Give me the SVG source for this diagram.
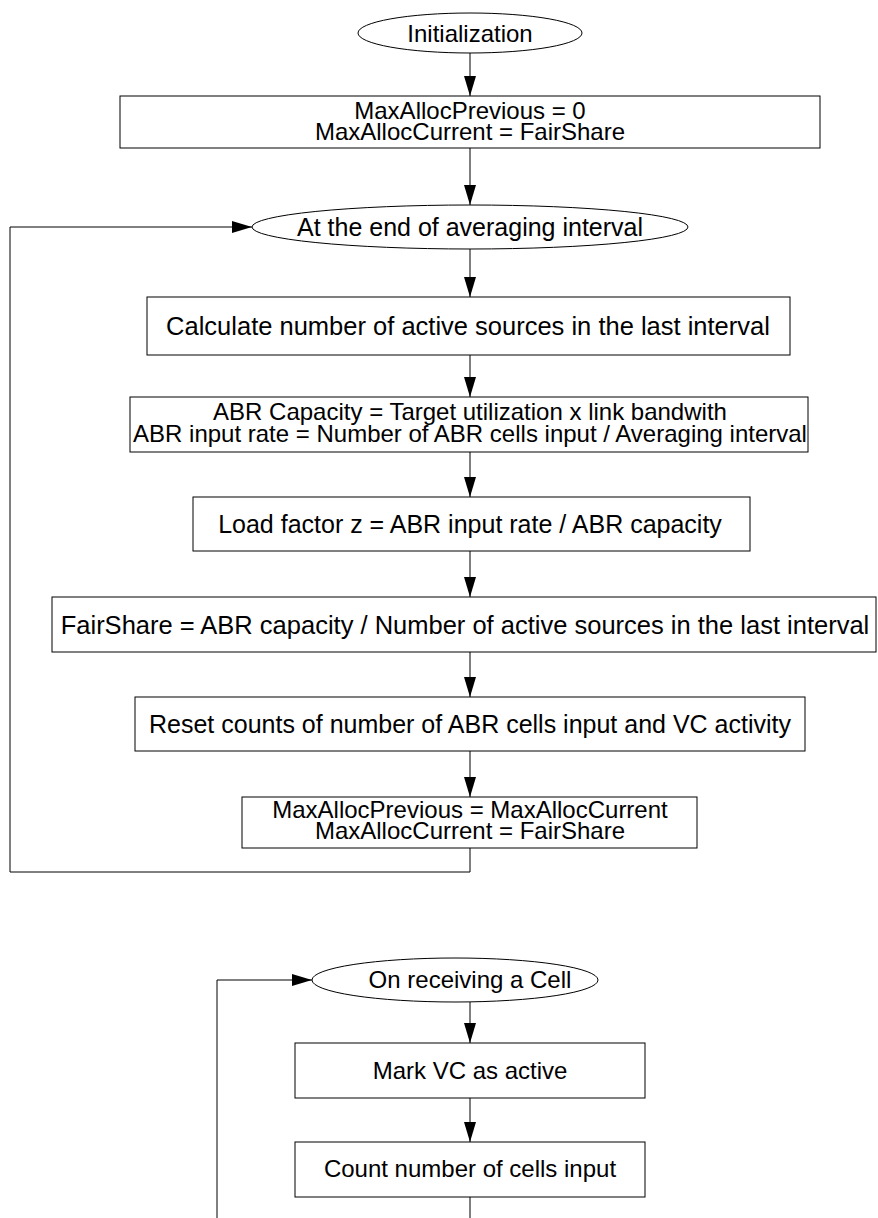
<svg xmlns="http://www.w3.org/2000/svg" width="878" height="1218" viewBox="0 0 878 1218">
<style>
.n{fill:#fff;stroke:#000;stroke-width:1}
.t{font-family:"Liberation Sans",Arial,sans-serif;font-size:24px;fill:#000;text-anchor:middle}
.l{font-size:25px}
.xl{font-size:25.5px}
.c{fill:none;stroke:#000;stroke-width:1}
</style>
<defs>
<marker id="ah" markerUnits="userSpaceOnUse" markerWidth="20" markerHeight="12" refX="20" refY="6" orient="auto">
<path d="M0,0 L20,6 L0,12 z" fill="#000"/>
</marker>
</defs>
<rect width="878" height="1218" fill="#fff"/>
<g id="connectors">
<line class="c" x1="470" y1="53" x2="470" y2="96" marker-end="url(#ah)"/>
<line class="c" x1="470" y1="148" x2="470" y2="205" marker-end="url(#ah)"/>
<line class="c" x1="470" y1="249" x2="470" y2="297" marker-end="url(#ah)"/>
<line class="c" x1="470" y1="355" x2="470" y2="397" marker-end="url(#ah)"/>
<line class="c" x1="470" y1="452" x2="470" y2="497" marker-end="url(#ah)"/>
<line class="c" x1="470" y1="551" x2="470" y2="597" marker-end="url(#ah)"/>
<line class="c" x1="470" y1="652" x2="470" y2="697" marker-end="url(#ah)"/>
<line class="c" x1="470" y1="751" x2="470" y2="797" marker-end="url(#ah)"/>
<polyline class="c" points="470,848 470,872 10,872 10,227 252,227" marker-end="url(#ah)"/>
<line class="c" x1="470" y1="1002" x2="470" y2="1043" marker-end="url(#ah)"/>
<line class="c" x1="470" y1="1098" x2="470" y2="1142" marker-end="url(#ah)"/>
<line class="c" x1="470" y1="1197" x2="470" y2="1218"/>
<polyline class="c" points="217,1218 217,980 312,980" marker-end="url(#ah)"/>
</g>
<g id="init">
<ellipse class="n" cx="470" cy="33" rx="112" ry="20"/>
<text class="t" x="470" y="42">Initialization</text>
</g>
<g id="setup">
<rect class="n" x="120" y="96" width="700" height="52"/>
<text class="t" x="470" y="118.5">MaxAllocPrevious = 0</text>
<text class="t" x="470" y="140">MaxAllocCurrent = FairShare</text>
</g>
<g id="end-interval">
<ellipse class="n" cx="470" cy="227" rx="218" ry="22"/>
<text class="t l" x="470" y="236">At the end of averaging interval</text>
</g>
<g id="calc-active">
<rect class="n" x="147" y="297" width="643" height="58"/>
<text class="t xl" x="468" y="335">Calculate number of active sources in the last interval</text>
</g>
<g id="abr-capacity">
<rect class="n" x="130" y="397" width="678" height="55"/>
<text class="t" x="470" y="420">ABR Capacity = Target utilization x link bandwith</text>
<text class="t" x="470" y="442">ABR input rate = Number of ABR cells input / Averaging interval</text>
</g>
<g id="load-factor">
<rect class="n" x="193" y="497" width="557" height="54"/>
<text class="t l" x="470" y="533">Load factor z = ABR input rate / ABR capacity</text>
</g>
<g id="fairshare">
<rect class="n" x="52" y="597" width="824" height="55"/>
<text class="t xl" x="465" y="634">FairShare = ABR capacity / Number of active sources in the last interval</text>
</g>
<g id="reset">
<rect class="n" x="135" y="697" width="670" height="54"/>
<text class="t l" x="470" y="733">Reset counts of number of ABR cells input and VC activity</text>
</g>
<g id="update-max">
<rect class="n" x="242" y="797" width="455" height="51"/>
<text class="t" x="470" y="818">MaxAllocPrevious = MaxAllocCurrent</text>
<text class="t" x="470" y="839">MaxAllocCurrent = FairShare</text>
</g>
<g id="receive">
<ellipse class="n" cx="455" cy="980" rx="143" ry="22"/>
<text class="t" x="470" y="988">On receiving a Cell</text>
</g>
<g id="mark-vc">
<rect class="n" x="295" y="1043" width="350" height="55"/>
<text class="t" x="470" y="1079">Mark VC as active</text>
</g>
<g id="count">
<rect class="n" x="295" y="1142" width="350" height="55"/>
<text class="t" x="470" y="1177">Count number of cells input</text>
</g>
</svg>
